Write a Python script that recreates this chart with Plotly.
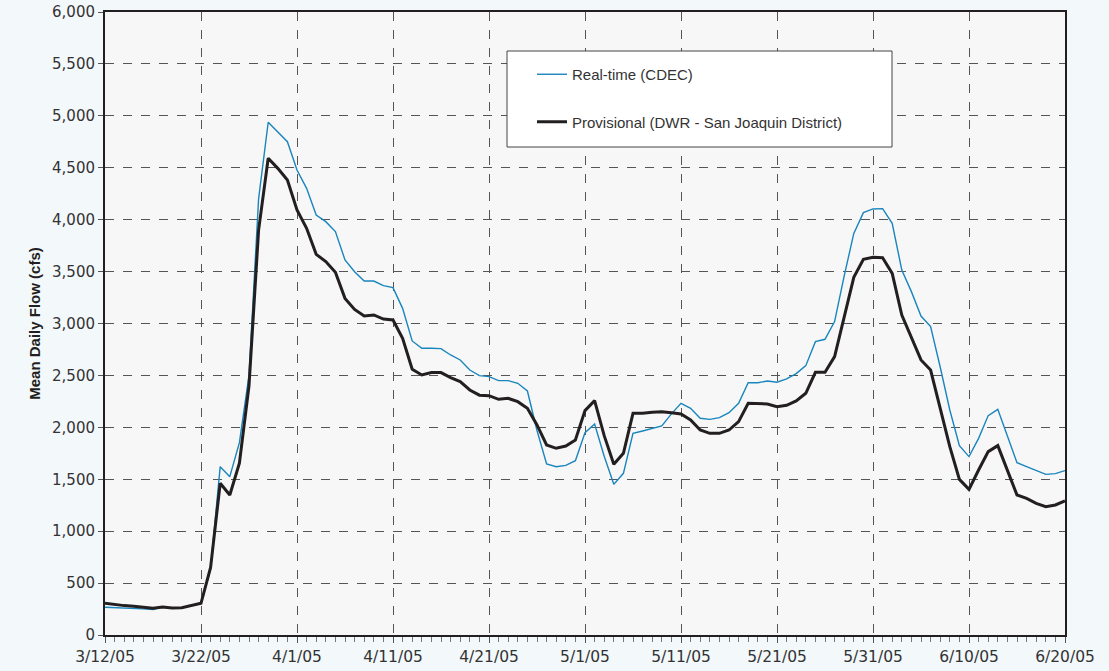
import pandas as pd
import plotly.graph_objects as go

start_date = "2005-03-12"
n_days = 101
dates = pd.date_range(start_date, periods=n_days, freq="D")

realtime_cdec = [
    267, 265, 262, 258, 252, 245, 268, 258, 262, 283,
    300, 640, 1621, 1525, 1852, 2500, 4200, 4938, 4848, 4751,
    4478, 4302, 4045, 3981, 3885, 3612, 3499, 3409, 3409, 3364,
    3345, 3146, 2832, 2761, 2761, 2758, 2697, 2649, 2552, 2498,
    2488, 2450, 2450, 2424, 2350, 1970, 1647, 1621, 1634, 1679,
    1948, 2032, 1721, 1451, 1557, 1942, 1965, 1989, 2013, 2130,
    2231, 2183, 2087, 2077, 2093, 2141, 2231, 2430, 2430, 2446,
    2435, 2466, 2517, 2594, 2825, 2848, 3018, 3458, 3868, 4068,
    4103, 4106, 3965, 3515, 3307, 3072, 2970, 2581, 2167, 1824,
    1718, 1894, 2113, 2173, 1926, 1660, 1621, 1586, 1547, 1554,
    1583,
]

provisional_dwr = [
    305, 292, 283, 277, 268, 257, 270, 260, 263, 285,
    305, 650, 1461, 1348, 1654, 2400, 3900, 4591, 4494, 4382,
    4093, 3917, 3666, 3596, 3493, 3242, 3136, 3072, 3082, 3043,
    3034, 2857, 2559, 2504, 2527, 2527, 2479, 2440, 2360, 2310,
    2305, 2270, 2279, 2247, 2183, 2023, 1830, 1798, 1820, 1878,
    2161, 2257, 1920, 1644, 1750, 2135, 2135, 2145, 2151, 2141,
    2128, 2071, 1974, 1942, 1942, 1974, 2055, 2231, 2228, 2225,
    2199, 2212, 2254, 2328, 2530, 2530, 2681, 3069, 3445, 3618,
    3637, 3634, 3483, 3082, 2873, 2649, 2552, 2177, 1814, 1499,
    1403, 1589, 1766, 1824, 1589, 1348, 1316, 1268, 1236, 1252,
    1291,
]

x_tick_dates = ["2005-03-12", "2005-03-22", "2005-04-01", "2005-04-11", "2005-04-21",
                "2005-05-01", "2005-05-11", "2005-05-21", "2005-05-31", "2005-06-10",
                "2005-06-20"]
x_tick_labels = ["3/12/05", "3/22/05", "4/1/05", "4/11/05", "4/21/05", "5/1/05",
                 "5/11/05", "5/21/05", "5/31/05", "6/10/05", "6/20/05"]

series_names = ["Real-time (CDEC)", "Provisional (DWR - San Joaquin District)"]

SANS = "Liberation Sans, Arial, sans-serif"
TICK = "DejaVu Sans, Verdana, sans-serif"

L, R, T, B = 105, 44, 12, 36
W, H = 1109, 671
PW, PH = W - L - R, H - T - B

fig = go.Figure()
fig.add_trace(go.Scatter(x=dates, y=realtime_cdec, mode="lines", name=series_names[0],
                         line=dict(color="#1985bd", width=1.4), legendgroup="a"))
fig.add_trace(go.Scatter(x=dates, y=provisional_dwr, mode="lines", name=series_names[1],
                         line=dict(color="#231f20", width=3), legendgroup="b"))

# legend box background
fig.add_shape(type="rect", xref="paper", yref="paper",
              x0=(507 - L) / PW, x1=(892 - L) / PW,
              y0=(H - B - 147) / PH, y1=(H - B - 51) / PH,
              fillcolor="white", line=dict(color="#444444", width=1), layer="above")

fig.update_layout(
    width=W, height=H,
    margin=dict(l=L, r=R, t=T, b=B, autoexpand=False),
    paper_bgcolor="#f3f8fb",
    plot_bgcolor="#f7f7f7",
    font=dict(family=SANS, size=15, color="#333333"),
    showlegend=True,
    legend=dict(x=(532 - L) / PW, y=(H - B - 58) / PH, xanchor="left", yanchor="top",
                bgcolor="rgba(0,0,0,0)", borderwidth=0,
                traceorder="grouped", tracegroupgap=25,
                font=dict(family=SANS, size=15, color="#333333")),
    xaxis=dict(
        type="date", automargin=False,
        range=[x_tick_dates[0], x_tick_dates[-1]],
        tickmode="array", tickvals=x_tick_dates, ticktext=x_tick_labels,
        showgrid=True, gridcolor="#555555", griddash="dash", gridwidth=1,
        showline=True, linecolor="#231f20", linewidth=2, mirror=True,
        ticks="outside", ticklen=6, tickcolor="#555555", tickwidth=1,
        minor=dict(dtick=86400000, ticks="outside", ticklen=5, tickcolor="#777777",
                   tickwidth=1, showgrid=False),
        zeroline=False,
        tickfont=dict(family=TICK, size=15.5, color="#333333"),
    ),
    yaxis=dict(
        range=[0, 6000], dtick=500, tickformat=",", automargin=False,
        showgrid=True, gridcolor="#555555", griddash="dash", gridwidth=1,
        showline=True, linecolor="#231f20", linewidth=2, mirror=True,
        ticks="outside", ticklen=5, tickcolor="#555555", tickwidth=1,
        zeroline=False,
        tickfont=dict(family=TICK, size=15, color="#333333"),
        title=dict(text="<b>Mean Daily Flow (cfs)</b>", standoff=8,
                   font=dict(family=SANS, size=15, color="#231f20")),
    ),
)

fig.write_html("out.html", config={"displayModeBar": False},
               post_script="document.body.style.margin='0px';")
